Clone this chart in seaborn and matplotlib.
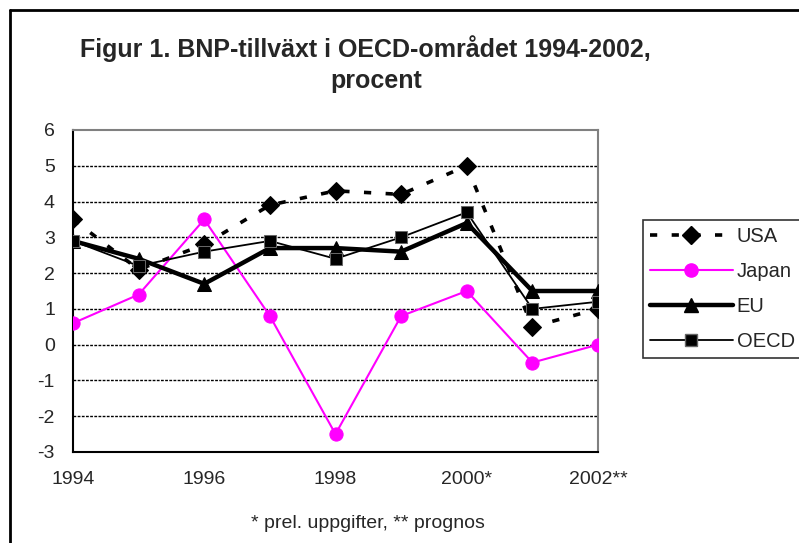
import matplotlib
matplotlib.use("Agg")
import matplotlib.pyplot as plt
import seaborn as sns
import pandas as pd
from matplotlib.lines import Line2D

years = ["1994", "1995", "1996", "1997", "1998", "1999", "2000*", "2001*", "2002**"]
usa = [3.5, 2.1, 2.8, 3.9, 4.3, 4.2, 5.0, 0.5, 1.0]
japan = [0.6, 1.4, 3.5, 0.8, -2.5, 0.8, 1.5, -0.5, 0.0]
eu = [2.9, 2.4, 1.7, 2.7, 2.7, 2.6, 3.4, 1.5, 1.5]
oecd = [2.9, 2.2, 2.6, 2.9, 2.4, 3.0, 3.7, 1.0, 1.2]
yticks = [-3, -2, -1, 0, 1, 2, 3, 4, 5, 6]

sns.set_style("white")
plt.rcParams['font.family'] = ['Liberation Sans', 'DejaVu Sans']

fig = plt.figure(figsize=(7.99, 5.43), dpi=100)
ax = fig.add_axes([73/799, 1-452/543, (598-73)/799, (452-130)/543])

pos = list(range(len(years)))
df = pd.DataFrame({"pos": pos, "USA": usa, "Japan": japan, "EU": eu, "OECD": oecd})

for yv in yticks[1:-1]:
    ax.axhline(yv, color="black", lw=1.0, ls=(0, (2, 1)), zorder=1)

styles = {
    "USA": dict(color="black", lw=2.6, ls=(0, (2, 4)), marker="D", ms=9, mfc="black", mec="black"),
    "Japan": dict(color="#FF00FF", lw=1.5, ls="-", marker="o", ms=9.5, mfc="#FF00FF", mec="#FF00FF"),
    "EU": dict(color="black", lw=3.2, ls="-", marker="^", ms=9.5, mfc="black", mec="black"),
    "OECD": dict(color="black", lw=1.3, ls="-", marker="s", ms=8.5, mfc="black", mec="#666666"),
}
handles = []
for name in ["USA", "Japan", "EU", "OECD"]:
    s = styles[name]
    sns.lineplot(data=df, x="pos", y=name, ax=ax, color=s["color"], linewidth=s["lw"],
                 linestyle=s["ls"], marker=s["marker"], markersize=s["ms"],
                 markerfacecolor=s["mfc"], markeredgecolor=s["mec"], zorder=3)
    handles.append(Line2D([], [], color=s["color"], lw=s["lw"], ls=s["ls"], marker=s["marker"],
                          ms=s["ms"], mfc=s["mfc"], mec=s["mec"], label=name))

ax.set_xlim(0, len(years) - 1)
ax.set_ylim(-3, 6)
ax.set_yticks(yticks)
ax.set_yticklabels([str(v) for v in yticks], fontsize=14)
ax.set_xticks(pos)
ax.set_xticklabels([y if i % 2 == 0 else "" for i, y in enumerate(years)], fontsize=14)
ax.set_xlabel("")
ax.set_ylabel("")
ax.tick_params(axis="both", direction="out", length=5, width=1.2, color="black")
ax.tick_params(axis="y", pad=8)
ax.tick_params(axis="x", pad=9)
for side in ["left", "bottom"]:
    ax.spines[side].set_color("black")
    ax.spines[side].set_linewidth(1.5)
for side in ["top", "right"]:
    ax.spines[side].set_color("#808080")
    ax.spines[side].set_linewidth(1.5)

fig.text(365/799, 1-57/543, "Figur 1. BNP-tillväxt i OECD-området 1994-2002,", ha="center", va="baseline",
         fontsize=18, fontweight="bold")
fig.text(376/799, 1-88/543, "procent", ha="center", va="baseline", fontsize=18, fontweight="bold")
fig.text(368/799, 1-523/543, "* prel. uppgifter, ** prognos", ha="center", va="center", fontsize=14)

leg = fig.legend(handles=handles, loc="upper left", bbox_to_anchor=(643/799, 1-220/543),
                 fontsize=14.5, handlelength=4.1, handletextpad=0.2, labelspacing=0.8,
                 frameon=True, fancybox=False, borderpad=0.35, borderaxespad=0)
leg.get_frame().set_edgecolor("black")
leg.get_frame().set_linewidth(1.2)

# outer chart frame
fig.add_artist(Line2D([10/799, 10/799], [0, 1-10/543], transform=fig.transFigure, color="black", lw=2))
fig.add_artist(Line2D([10/799, 1], [1-10/543, 1-10/543], transform=fig.transFigure, color="black", lw=2))

fig.savefig("out.png", dpi=100)
